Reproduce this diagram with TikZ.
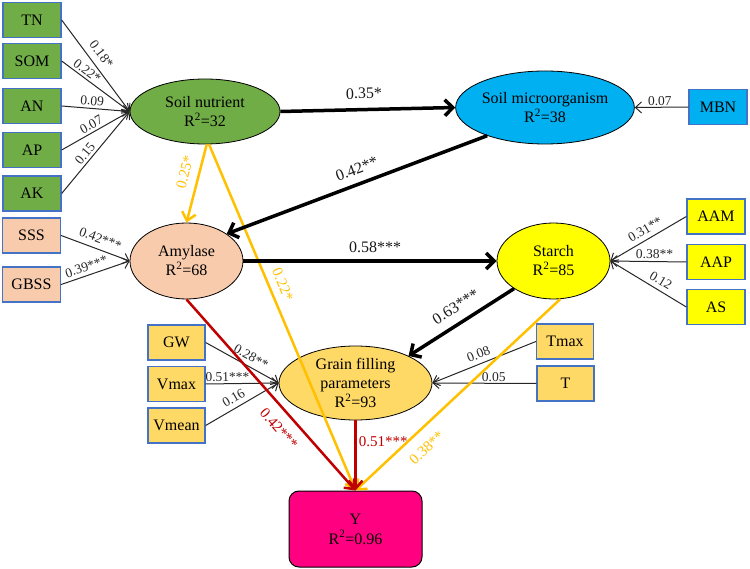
\documentclass[tikz,border=0pt]{standalone}
\usepackage{fontspec}
\setmainfont{Liberation Serif}
\usetikzlibrary{arrows.meta,shapes.geometric}
\definecolor{cgreen}{HTML}{70AD47}
\definecolor{boxblue}{HTML}{4472C4}
\definecolor{ccyan}{HTML}{00B0F0}
\definecolor{cpeach}{HTML}{F8CBAD}
\definecolor{cyel}{HTML}{FFFF00}
\definecolor{cgoldfill}{HTML}{FFD966}
\definecolor{cmag}{HTML}{FF0080}
\definecolor{cgold}{HTML}{FFC000}
\definecolor{cred}{HTML}{C00000}
\begin{document}
\begin{tikzpicture}[x=1pt,y=-1pt,
  ell/.style={ellipse, draw=black, line width=0.8pt, inner sep=0pt, align=center, font=\fontsize{16}{19}\selectfont},
  box/.style={rectangle, draw=boxblue, line width=1.3pt, minimum width=58pt, minimum height=35pt, inner sep=0pt, font=\fontsize{16}{19}\selectfont},
  thinarr/.style={line width=1pt, draw=black!85, -{Straight Barb[length=6pt,width=11pt]}},
  thickarr/.style={line width=3.5pt, draw=black, -{Straight Barb[length=8pt,width=16pt]}},
  goldarr/.style={line width=2.5pt, draw=cgold, -{Straight Barb[length=8pt,width=14pt]}},
  redarr/.style={line width=2.5pt, draw=cred, -{Straight Barb[length=8pt,width=14pt]}},
  lab/.style={sloped, font=\fontsize{13.5}{15}\selectfont, text=black!85, inner sep=1.5pt},
  blab/.style={sloped, font=\fontsize{16}{18}\selectfont, text=black!90, inner sep=2pt},
  glab/.style={sloped, font=\fontsize{15}{17}\selectfont, text=cgold, inner sep=2pt},
  rlab/.style={sloped, font=\fontsize{15}{17}\selectfont, text=cred, inner sep=2pt}
]
\useasboundingbox (0,0) rectangle (750,569);

% main nodes
\node[ell, fill=cgreen, minimum width=150pt, minimum height=65pt] (sn) at (205,111.5) {Soil nutrient\\R\textsuperscript{2}=32};
\node[ell, fill=ccyan, minimum width=150pt, minimum height=73pt] (sm) at (545,107.5) {Soil microorganism\\R\textsuperscript{2}=38};
\node[ell, fill=cpeach, minimum width=113pt, minimum height=76pt] (am) at (186.5,261) {Amylase\\R\textsuperscript{2}=68};
\node[ell, fill=cyel, minimum width=113pt, minimum height=76pt] (st) at (553.5,261) {Starch\\R\textsuperscript{2}=85};
\node[ell, fill=cgoldfill, minimum width=153pt, minimum height=74pt] (gf) at (355.5,383) {Grain filling\\parameters\\R\textsuperscript{2}=93};
\node[rectangle, rounded corners=10pt, draw=black, line width=1pt, fill=cmag, minimum width=133pt, minimum height=76pt, align=center, font=\fontsize{16}{20}\selectfont] (y) at (355.5,529) {Y\\R\textsuperscript{2}=0.96};

% boxes
\node[box, fill=cgreen] (tn) at (32,20) {TN};
\node[box, fill=cgreen] (som) at (32,61) {SOM};
\node[box, fill=cgreen] (an) at (32,106) {AN};
\node[box, fill=cgreen] (ap) at (32,150) {AP};
\node[box, fill=cgreen] (ak) at (32,193.5) {AK};
\node[box, fill=cpeach] (sss) at (31.5,235.5) {SSS};
\node[box, fill=cpeach] (gbss) at (31.5,284.5) {GBSS};
\node[box, fill=ccyan] (mbn) at (718,107) {MBN};
\node[box, fill=cyel] (aam) at (716,216.5) {AAM};
\node[box, fill=cyel] (aap) at (716,262) {AAP};
\node[box, fill=cyel] (as) at (716,307) {AS};
\node[box, fill=cgoldfill, minimum width=57pt] (gw) at (176.5,342.5) {GW};
\node[box, fill=cgoldfill, minimum width=57pt] (vmax) at (176.5,384) {Vmax};
\node[box, fill=cgoldfill, minimum width=57pt] (vmean) at (176.5,425.5) {Vmean};
\node[box, fill=cgoldfill, minimum width=57pt] (tmax) at (565,341.5) {Tmax};
\node[box, fill=cgoldfill, minimum width=57pt] (t) at (565.5,383.5) {T};

% thin arrows
\draw[thinarr] (tn.east) -- node[lab, above=5pt, pos=0.45] {0.18*} (sn.west);
\draw[thinarr] (som.east) -- node[lab, above=1pt, pos=0.31] {0.22*} (sn.west);
\draw[thinarr] (an.east) -- node[lab, above=1pt, pos=0.44] {0.09} (sn.west);
\draw[thinarr] (ap.east) -- node[lab, above=1pt, pos=0.49] {0.07} (sn.west);
\draw[thinarr] (ak.east) -- node[lab, above=1pt, pos=0.43] {0.15} (sn.west);
\draw[thinarr] (mbn.west) -- node[lab, above=0pt, pos=0.53] {0.07} (sm.east);
\draw[thinarr] (sss.east) -- node[lab, above=4pt, pos=0.52] {0.42***} (am.west);
\draw[thinarr] (gbss.east) -- node[lab, above=2pt, pos=0.41] {0.39***} (am.west);
\draw[thinarr] (aam.west) -- node[lab, above=3pt, pos=0.48] {0.31**} (st.east);
\draw[thinarr] (aap.west) -- node[lab, above=1pt, pos=0.42] {0.38**} (st.east);
\draw[thinarr] (as.west) -- node[lab, above=3pt, pos=0.40] {0.12} (st.east);
\draw[thinarr] (tmax.west) -- node[lab, above=3pt, pos=0.52] {0.08} (gf.east);
\draw[thinarr] (t.west) -- node[lab, above=0pt, pos=0.41] {0.05} (gf.east);
\draw[thinarr] (gw.east) -- node[lab, above=3pt, pos=0.56] {0.28**} (gf.west);
\draw[thinarr] (vmax.east) -- node[lab, above=0pt, pos=0.30] {0.51***} (gf.west);
\draw[thinarr] (vmean.east) -- node[lab, above=3pt, pos=0.45] {0.16} (gf.west);

% colored arrows
\draw[goldarr] (sn.277) -- node[glab, above=5pt, pos=0.42] {0.22*} (y.north);
\draw[redarr] (am.south) -- node[rlab, below=8pt, pos=0.62] {0.42***} (y.north);
\draw[goldarr] (st.280) -- node[glab, below=9pt, pos=0.71] {0.38**} (y.north);
\draw[redarr] (gf.south) -- node[font=\fontsize{15}{17}\selectfont, text=cred, right, inner sep=2pt, pos=0.3] {0.51***} (y.north);
\draw[goldarr] (sn.273) -- node[glab, above=6pt, pos=0.4] {0.25*} (am.north);

% thick arrows
\draw[thickarr] (sn.east) -- node[blab, above=7pt, pos=0.48] {0.35*} (sm.west);
\draw[thickarr] (sm.206) -- node[blab, above=6pt, pos=0.48] {0.42**} (am.34);
\draw[thickarr] (am.east) -- node[blab, above=5pt, pos=0.52] {0.58***} (st.west);
\draw[thickarr] (st.215) -- node[blab, above=7pt, pos=0.47] {0.63***} (gf.27);
\end{tikzpicture}
\end{document}
